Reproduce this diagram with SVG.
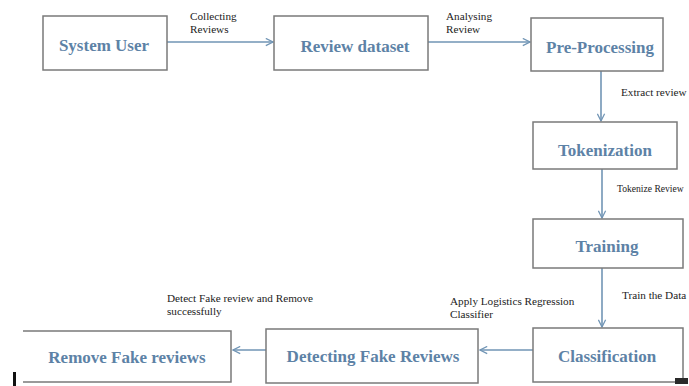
<svg xmlns="http://www.w3.org/2000/svg" width="689" height="386" viewBox="0 0 689 386">
  <style>
    .box { fill: #ffffff; stroke: #7a7a7a; stroke-width: 1.5; }
    .title { font-family: "Liberation Serif", "Times New Roman", serif; font-weight: bold; font-size: 17px; fill: #5d82a6; text-anchor: middle; }
    .lbl { font-family: "Liberation Serif", "Times New Roman", serif; font-size: 11.2px; fill: #222222; }
    .edge { fill: none; stroke: #7195b5; stroke-width: 1.6; marker-end: url(#chev); }
  </style>
  <defs>
    <marker id="chev" viewBox="0 0 10 10" refX="9" refY="5" markerWidth="9" markerHeight="9" markerUnits="userSpaceOnUse" orient="auto">
      <path d="M1,1 L9,5 L1,9" fill="none" stroke="#7195b5" stroke-width="1.4"/>
    </marker>
  </defs>
  <rect width="689" height="386" fill="#ffffff"/>

  <!-- connectors -->
  <g id="connectors">
    <line class="edge" x1="167" y1="42" x2="273" y2="42"/>
    <line class="edge" x1="428" y1="42" x2="530" y2="42"/>
    <line class="edge" x1="601" y1="71" x2="601" y2="121"/>
    <line class="edge" x1="602" y1="169" x2="602" y2="218"/>
    <line class="edge" x1="602" y1="268" x2="602" y2="327"/>
    <line class="edge" x1="533" y1="350" x2="480" y2="350"/>
    <line class="edge" x1="266" y1="350" x2="233" y2="350"/>

    <text class="lbl" x="190" y="20">Collecting</text>
    <text class="lbl" x="190" y="33">Reviews</text>
    <text class="lbl" x="446" y="20">Analysing</text>
    <text class="lbl" x="446" y="33">Review</text>
    <text class="lbl" x="621" y="96">Extract review</text>
    <text class="lbl" x="617" y="192" style="font-size:9.6px">Tokenize Review</text>
    <text class="lbl" x="622" y="299">Train the Data</text>
    <text class="lbl" x="450" y="305">Apply Logistics Regression</text>
    <text class="lbl" x="450" y="318">Classifier</text>
    <text class="lbl" x="167" y="302">Detect Fake review and Remove</text>
    <text class="lbl" x="167" y="315">successfully</text>
  </g>

  <g id="system-user">
    <rect class="box" x="43" y="16" width="124" height="54"/>
    <text class="title" x="104" y="51">System User</text>
  </g>
  <g id="review-dataset">
    <rect class="box" x="274" y="16" width="154" height="54"/>
    <text class="title" x="355" y="52">Review dataset</text>
  </g>
  <g id="pre-processing">
    <rect class="box" x="531" y="18" width="132" height="53"/>
    <text class="title" x="600" y="53">Pre-Processing</text>
  </g>
  <g id="tokenization">
    <rect class="box" x="533" y="122" width="144" height="47"/>
    <text class="title" x="605" y="156">Tokenization</text>
  </g>
  <g id="training">
    <rect class="box" x="533" y="219" width="150" height="49"/>
    <text class="title" x="607" y="252">Training</text>
  </g>
  <g id="classification">
    <rect class="box" x="533" y="328" width="150" height="54"/>
    <text class="title" x="607" y="362">Classification</text>
  </g>
  <g id="detecting-fake-reviews">
    <rect class="box" x="266" y="329" width="212" height="54"/>
    <text class="title" x="373" y="362">Detecting Fake Reviews</text>
  </g>
  <g id="remove-fake-reviews">
    <rect x="0" y="331" width="231" height="51" fill="#ffffff"/>
    <path d="M23,331 H231 V382 H23" fill="none" stroke="#7a7a7a" stroke-width="1.5"/>
    <text class="title" x="127" y="363">Remove Fake reviews</text>
  </g>

  <!-- edge marks at the bottom corners -->
  <rect x="13" y="372" width="3" height="14" fill="#111111"/>
  <rect x="675" y="378" width="13" height="6" fill="#2a2a2a"/>
</svg>
